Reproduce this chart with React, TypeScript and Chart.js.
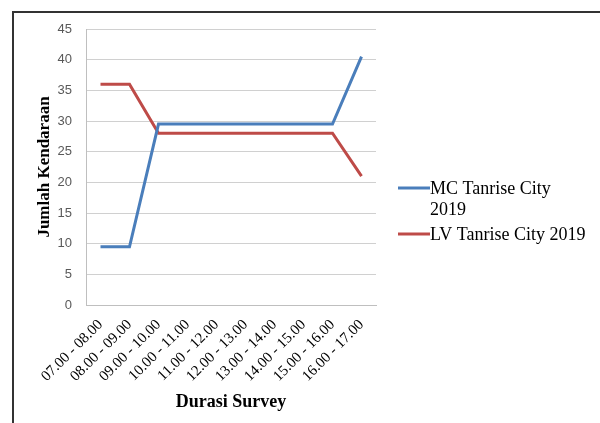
import React, { useEffect, useRef } from "react";
import { Chart, registerables } from "chart.js";

Chart.register(...registerables);

const categories: string[] = [
  "07.00 - 08.00",
  "08.00 - 09.00",
  "09.00 - 10.00",
  "10.00 - 11.00",
  "11.00 - 12.00",
  "12.00 - 13.00",
  "13.00 - 14.00",
  "14.00 - 15.00",
  "15.00 - 16.00",
  "16.00 - 17.00",
];

const mcValues: number[] = [9.5, 9.5, 29.5, 29.5, 29.5, 29.5, 29.5, 29.5, 29.5, 40.5];
const lvValues: number[] = [36, 36, 28, 28, 28, 28, 28, 28, 28, 21];

const seriesNames: string[] = ["MC Tanrise City 2019", "LV Tanrise City 2019"];
const legendLines: string[][] = [["MC Tanrise City", "2019"], ["LV Tanrise City 2019"]];

const yTitle = "Jumlah Kendaraan";
const xTitle = "Durasi Survey";

const BLUE = "#4a7ebb";
const RED = "#be4b48";

const framePlugin = {
  id: "frame",
  beforeDraw(chart: any) {
    const { ctx, width, height } = chart;
    ctx.save();
    ctx.fillStyle = "#ffffff";
    ctx.fillRect(0, 0, width, height);
    ctx.restore();
  },
  afterDraw(chart: any) {
    const { ctx, width, height } = chart;
    ctx.save();
    ctx.strokeStyle = "#333333";
    ctx.lineWidth = 2;
    ctx.beginPath();
    ctx.moveTo(width, 12);
    ctx.lineTo(13, 12);
    ctx.lineTo(13, height);
    ctx.stroke();
    ctx.restore();
  },
};

const sideLegendPlugin = {
  id: "sideLegend",
  afterDraw(chart: any) {
    const ctx = chart.ctx;
    ctx.save();
    ctx.font = '18px "Liberation Serif"';
    ctx.textBaseline = "middle";
    ctx.textAlign = "left";
    ctx.fillStyle = "#000000";
    let y = 188;
    const lineH = 21;
    chart.data.datasets.forEach((ds: any, i: number) => {
      ctx.strokeStyle = ds.borderColor;
      ctx.lineWidth = 3;
      ctx.beginPath();
      ctx.moveTo(398, y);
      ctx.lineTo(430, y);
      ctx.stroke();
      const lines = legendLines[i] || [ds.label];
      lines.forEach((t: string, j: number) => {
        ctx.fillText(t, 430, y + j * lineH + 1);
      });
      y += lines.length * lineH + 4;
    });
    ctx.restore();
  },
};

export default function App() {
  const canvasRef = useRef<HTMLCanvasElement | null>(null);

  useEffect(() => {
    if (!canvasRef.current) return;
    const chart = new Chart(canvasRef.current, {
      type: "line",
      data: {
        labels: categories,
        datasets: [
          {
            label: seriesNames[0],
            data: mcValues,
            borderColor: BLUE,
            backgroundColor: BLUE,
            borderWidth: 3,
            pointRadius: 0,
            tension: 0,
            fill: false,
          },
          {
            label: seriesNames[1],
            data: lvValues,
            borderColor: RED,
            backgroundColor: RED,
            borderWidth: 3,
            pointRadius: 0,
            tension: 0,
            fill: false,
          },
        ],
      },
      options: {
        responsive: false,
        animation: false,
        devicePixelRatio: 1,
        layout: { padding: { top: 29, right: 224, left: 0, bottom: 0 } },
        plugins: {
          legend: { display: false },
          tooltip: { enabled: false },
        },
        scales: {
          x: {
            offset: true,
            grid: { display: false, drawTicks: false },
            border: { display: true, color: "#bfbfbf", width: 1 },
            ticks: {
              minRotation: 45,
              maxRotation: 45,
              autoSkip: false,
              padding: 11,
              color: "#000000",
              font: { family: '"Liberation Serif"', size: 15 },
            },
            title: {
              display: true,
              text: xTitle,
              color: "#000000",
              font: { family: '"Liberation Serif"', size: 18, weight: "bold", lineHeight: 1 },
              padding: { top: 0, bottom: 12 },
            },
            afterFit(scale: any) {
              scale.height = 118;
              scale.paddingLeft = 0;
              scale.paddingRight = 0;
            },
          },
          y: {
            min: 0,
            max: 45,
            grid: { color: "#d0d0d0", drawTicks: false, lineWidth: 1 },
            border: { display: true, color: "#bfbfbf", width: 1 },
            ticks: {
              stepSize: 5,
              padding: 14,
              color: "#595959",
              font: { family: '"Liberation Sans"', size: 13 },
            },
            title: {
              display: true,
              text: yTitle,
              color: "#000000",
              font: { family: '"Liberation Serif"', size: 17, weight: "bold", lineHeight: 1 },
              padding: { top: 36, bottom: 0 },
            },
            afterFit(scale: any) {
              scale.width = 86;
              scale.paddingTop = 0;
              scale.paddingBottom = 0;
            },
          },
        },
      },
      plugins: [framePlugin, sideLegendPlugin],
    });
    return () => chart.destroy();
  }, []);

  return (
    <div style={{ position: "fixed", left: 0, top: 0, width: 600, height: 423 }}>
      <canvas ref={canvasRef} width={600} height={423} style={{ width: 600, height: 423, display: "block" }} />
    </div>
  );
}
